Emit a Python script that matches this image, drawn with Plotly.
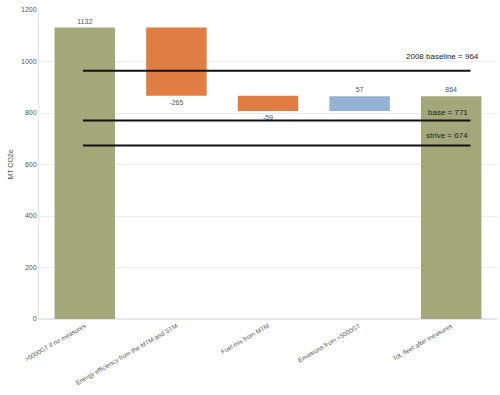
import plotly.graph_objects as go

categories = [">5000GT if no measures", "Energy efficiency from the MTM and STM",
              "Fuel mix from MTM", "Emissions from <5000GT", "Tot. fleet after measures"]
measures = ["absolute", "relative", "relative", "relative", "total"]
values = [1132, -265, -59, 57, 864]
value_labels = ["1132", "-265", "-59", "57", "864"]
ref_names = ["2008 baseline = 964", "base = 771", "strive = 674"]
ref_values = [964, 771, 674]
y_ticks = [0, 200, 400, 600, 800, 1000, 1200]

fig = go.Figure()
fig.add_trace(go.Waterfall(
    x=categories, y=values, measure=measures,
    text=value_labels, textposition="outside",
    textfont=dict(size=7, color="#555555", family="Liberation Sans"),
    connector=dict(visible=False),
    totals=dict(marker=dict(color="#a3a87b")),
    decreasing=dict(marker=dict(color="#e07d42")),
    increasing=dict(marker=dict(color="#94b3d4")),
    cliponaxis=False,
))
fig.update_traces(width=0.66)

label_x = [4.32, 4.2, 4.2]
label_shift = [8, 1, 3]
for name, v, lx, ys in zip(ref_names, ref_values, label_x, label_shift):
    fig.add_shape(type="line", xref="x", yref="y", x0=-0.02, x1=4.21, y0=v, y1=v,
                  line=dict(color="#111111", width=2))
    fig.add_annotation(x=lx, y=v, xref="x", yref="y",
                       text=name, showarrow=False, xanchor="right", yanchor="bottom",
                       yshift=ys, font=dict(size=8, color="#222222", family="Liberation Sans"))

fig.update_layout(
    width=500, height=395,
    margin=dict(l=39, r=3, t=10, b=76),
    paper_bgcolor="white", plot_bgcolor="white",
    showlegend=False,
    font=dict(family="Liberation Sans", color="#555555"),
    xaxis=dict(tickangle=-30, tickfont=dict(size=6.3, color="#555555"), automargin=False,
               showgrid=False, linecolor="#e6e6e6", showline=True),
    yaxis=dict(range=[0, 1200], tickvals=y_ticks, tickfont=dict(size=7, color="#555555"),
               automargin=False,
               gridcolor="#ececec", showline=True, linecolor="#e6e6e6",
               zeroline=True, zerolinecolor="#e6e6e6",
               title=dict(text="MT CO2e", font=dict(size=7, color="#555555"), standoff=6)),
)

fig.write_html("out.html", config={"displayModeBar": False},
               post_script="document.body.style.margin='0';")
